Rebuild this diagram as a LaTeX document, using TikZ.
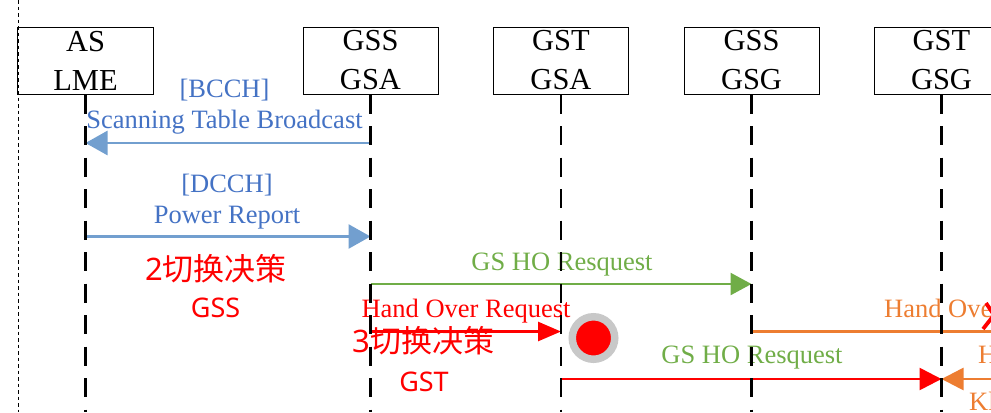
\documentclass[tikz,border=0pt]{standalone}
\usepackage{fontspec}
\setmainfont{Liberation Serif}
\newfontfamily\cjk{Noto Sans CJK SC}
\newfontfamily\lat{Noto Sans}
\usetikzlibrary{arrows.meta}
\definecolor{txtblue}{HTML}{4472C4}
\definecolor{arrblue}{RGB}{114,159,207}
\definecolor{grn}{HTML}{70AD47}
\definecolor{org}{HTML}{ED7D31}
\definecolor{ringgray}{HTML}{C8C8C8}
\tikzset{
  boxst/.style={draw, line width=1bp, minimum width=135bp, minimum height=67bp, inner sep=0pt, align=center, font=\fontsize{30.5bp}{39bp}\selectfont},
  lifeline/.style={draw=black, line width=2.7bp, dash pattern=on 19bp off 12.5bp},
  msg/.style={inner sep=0pt, anchor=base, font=\fontsize{26.5bp}{31bp}\selectfont},
  cjktxt/.style={inner sep=0pt, text=red, font=\cjk\fontsize{31bp}{36bp}\selectfont},
  cjksub/.style={inner sep=0pt, text=red, font=\lat\fontsize{27bp}{32bp}\selectfont},
  bluearr/.style={draw=arrblue, line width=2.7bp, -{Triangle[length=22bp,width=24bp]}},
  grnarr/.style={draw=grn, line width=2.5bp, -{Triangle[length=21bp,width=22bp]}},
  redarr/.style={draw=red, line width=2.7bp, -{Triangle[length=22bp,width=22bp]}},
  redsmall/.style={draw=red, line width=2.7bp, -{Triangle[length=23bp,width=19bp]}},
  orgarr/.style={draw=org, line width=2.7bp, -{Triangle[length=22bp,width=22bp]}},
  orgline/.style={draw=org, line width=2.7bp},
}
\begin{document}
\begin{tikzpicture}[x=1bp, y=-1bp]
\useasboundingbox (0,0) rectangle (991,412);
\begin{scope}
\clip (0,0) rectangle (991,412);
% frame dashed line
\coordinate (ftop) at (18,0);
\coordinate (fbot) at (18,412);
\draw[line width=0.8bp, dash pattern=on 3.5bp off 3bp] (ftop) -- (fbot);

% heads
\node[boxst] (aslme) at (85.5,60.5) {AS\\LME};
\node[boxst] (gssgsa) at (370.5,60.5) {GSS\\GSA};
\node[boxst] (gstgsa) at (561,60.5) {GST\\GSA};
\node[boxst] (gssgsg) at (751.5,60.5) {GSS\\GSG};
\node[boxst] (gstgsg) at (941.5,60.5) {GST\\GSG};

\coordinate (bot) at (0,412);
\coordinate (ya) at (0,143);
\coordinate (yb) at (0,236.5);
\coordinate (yc) at (0,284);
\coordinate (yd) at (0,331.5);
\coordinate (ye) at (0,379);
\coordinate (redge) at (1000,0);

% message 1
\node[msg, text=txtblue] (bcch) at (224.5,97) {[BCCH]};
\node[msg, text=txtblue] (stb) at (224.5,128) {Scanning Table Broadcast};
\draw[bluearr] (gssgsa.south |- ya) -- (aslme.south |- ya);

% message 2
\node[msg, text=txtblue] (dcch) at (227,192) {[DCCH]};
\node[msg, text=txtblue] (pr) at (227,223) {Power Report};
\draw[bluearr] (aslme.south |- yb) -- (gssgsa.south |- yb);

% decision 2
\node[cjktxt] (dec2) at (216,268.5) {{\lat 2}切换决策};
\node[cjksub] (dec2b) at (215.5,307.5) {GSS};

% message 3
\node[msg, text=grn] (gsho1) at (562,270) {GS HO Resquest};
\draw[grnarr] (gssgsa.south |- yc) -- (gssgsg.south |- yc);

% message 4
\node[msg, text=red] (hor) at (466,317) {Hand Over Request};
\draw[redsmall] (gssgsa.south |- yd) -- (gstgsa.south |- yd);
\node[cjktxt] (dec3) at (423.5,341) {{\lat 3}切换决策};
\node[cjksub] (dec3b) at (424,382) {GST};

% red dot
\node[circle, fill=red, draw=ringgray, line width=7.5bp, minimum size=42.5bp, inner sep=0pt] (dot) at (593.5,338) {};

% message 5 (orange, off to the right)
\node[msg, anchor=base west, text=org] (hoo) at (884,317) {Hand Over Request};
\draw[orgline] (gssgsg.south |- yd) -- (redge |- yd);
\coordinate (xul) at (986,303);
\coordinate (xlr) at (1002,327);
\coordinate (xll) at (983,329);
\coordinate (xur) at (1005,301);
\draw[red, line width=3.8bp] (xul) -- (xlr) (xll) -- (xur);

% message 6
\node[msg, text=grn] (gsho2) at (752,363) {GS HO Resquest};
\draw[redarr] (gstgsa.south |- ye) -- (gstgsg.south |- ye);

% message 7 (orange, from the right)
\node[msg, anchor=base west, text=org] (hx) at (978,363) {H};
\node[msg, anchor=base west, text=org] (kx) at (969,410) {Kl};
\draw[orgarr] (redge |- ye) -- (gstgsg.south |- ye);

% lifelines
\draw[lifeline] (aslme.south) -- (aslme.south |- bot);
\draw[lifeline] (gssgsa.south) -- (gssgsa.south |- bot);
\draw[lifeline] (gstgsa.south) -- (gstgsa.south |- bot);
\draw[lifeline] (gssgsg.south) -- (gssgsg.south |- bot);
\draw[lifeline] (gstgsg.south) -- (gstgsg.south |- bot);
\end{scope}
\end{tikzpicture}
\end{document}
